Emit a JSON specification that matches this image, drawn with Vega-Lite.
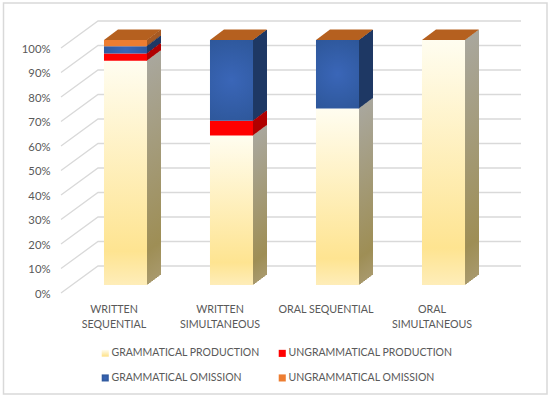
{"$schema":"https://vega.github.io/schema/vega-lite/v6.json","width":424,"height":245,"autosize":{"type":"none"},"padding":{"left":61,"top":48,"right":65,"bottom":104},"background":"white","config":{"view":{"stroke":null},"font":"Lato"},
"data":{"values":[
{"category":"WRITTEN SEQUENTIAL","series":"GRAMMATICAL PRODUCTION","value":91.5},
{"category":"WRITTEN SEQUENTIAL","series":"UNGRAMMATICAL PRODUCTION","value":3},
{"category":"WRITTEN SEQUENTIAL","series":"GRAMMATICAL OMISSION","value":3},
{"category":"WRITTEN SEQUENTIAL","series":"UNGRAMMATICAL OMISSION","value":2.5},
{"category":"WRITTEN SIMULTANEOUS","series":"GRAMMATICAL PRODUCTION","value":61},
{"category":"WRITTEN SIMULTANEOUS","series":"UNGRAMMATICAL PRODUCTION","value":6},
{"category":"WRITTEN SIMULTANEOUS","series":"GRAMMATICAL OMISSION","value":33},
{"category":"ORAL SEQUENTIAL","series":"GRAMMATICAL PRODUCTION","value":72},
{"category":"ORAL SEQUENTIAL","series":"GRAMMATICAL OMISSION","value":28},
{"category":"ORAL SIMULTANEOUS","series":"GRAMMATICAL PRODUCTION","value":100}]},
"transform":[{"stack":"value","groupby":["category"],"as":["low","high"]}],
"encoding":{
"x":{"field":"category","type":"nominal","title":null,"scale":{"domain":["WRITTEN SEQUENTIAL","WRITTEN SIMULTANEOUS","ORAL SEQUENTIAL","ORAL SIMULTANEOUS"],"paddingInner":0.594,"paddingOuter":0.297},"axis":{"ticks":false,"domain":false,"grid":false,"labelAngle":0,"labelColor":"#595959","labelFontSize":10.7,"labelPadding":11,"labelLineHeight":15,"labelOverlap":false,"labelBound":false,"labelBaseline":"top","labelExpr":"datum.label=='ORAL SEQUENTIAL'?datum.label:split(datum.label,' ')"}},
"y":{"field":"low","type":"quantitative","title":null,"scale":{"domain":[0,100],"nice":false},"axis":{"values":[0,10,20,30,40,50,60,70,80,90,100],"ticks":false,"domain":false,"grid":false,"labelColor":"#595959","labelFontSize":11.3,"labelPadding":11,"labelOffset":1,"labelBound":false,"labelFlush":false,"labelExpr":"datum.value+'%'"}},
"y2":{"field":"high"}},
"layer":[
{"data":{"values":[{"tick":0},{"tick":10},{"tick":20},{"tick":30},{"tick":40},{"tick":50},{"tick":60},{"tick":70},{"tick":80},{"tick":90},{"tick":100}]},"transform":[],"mark":{"type":"point","filled":false,"opacity":1,"size":4,"stroke":"#D9D9D9","strokeWidth":1.3,"shape":"M-53,0L-16,-27L407,-27"},"encoding":{"x":{"datum":"WRITTEN SEQUENTIAL","type":"nominal"},"y":{"field":"tick","type":"quantitative"},"y2":null}},
{"data":{"values":[{"tick":0}]},"transform":[],"mark":{"type":"point","filled":false,"opacity":1,"size":4,"stroke":"#D9D9D9","strokeWidth":1.5,"shape":"M-110.5,-290L433,-290L433,101L-110.5,101Z"},"encoding":{"x":{"datum":"WRITTEN SEQUENTIAL","type":"nominal"},"y":{"field":"tick","type":"quantitative"},"y2":null}},
{"encoding":{"fill":{"field":"series","type":"nominal","legend":null,"scale":{"domain":["UNGRAMMATICAL OMISSION","GRAMMATICAL OMISSION","UNGRAMMATICAL PRODUCTION","GRAMMATICAL PRODUCTION"],"range":["#A65A25","#1F3864","#B00000",{"expr":"{gradient:'linear',x1:0,y1:0,x2:0,y2:1,stops:[{offset:0,color:'#A9A79D'},{offset:0.85,color:'#9E8E55'},{offset:1,color:'#A8996C'}]}"}]}}},
"layer":[
{"mark":{"type":"bar","width":1.5,"xOffset":33.25,"yOffset":-8.4,"y2Offset":-8.4}},
{"mark":{"type":"bar","width":1.5,"xOffset":34.25,"yOffset":-9.1,"y2Offset":-9.1}},
{"mark":{"type":"bar","width":1.5,"xOffset":35.25,"yOffset":-9.9,"y2Offset":-9.9}},
{"mark":{"type":"bar","width":1.5,"xOffset":36.25,"yOffset":-10.6,"y2Offset":-10.6}},
{"mark":{"type":"bar","width":1.5,"xOffset":37.25,"yOffset":-11.4,"y2Offset":-11.4}},
{"mark":{"type":"bar","width":1.5,"xOffset":38.25,"yOffset":-12.1,"y2Offset":-12.1}},
{"mark":{"type":"bar","width":1.5,"xOffset":39.25,"yOffset":-12.9,"y2Offset":-12.9}},
{"mark":{"type":"bar","width":1.5,"xOffset":40.25,"yOffset":-13.6,"y2Offset":-13.6}},
{"mark":{"type":"bar","width":1.5,"xOffset":41.25,"yOffset":-14.4,"y2Offset":-14.4}},
{"mark":{"type":"bar","width":1.5,"xOffset":42.25,"yOffset":-15.1,"y2Offset":-15.1}},
{"mark":{"type":"bar","width":1.5,"xOffset":43.25,"yOffset":-15.9,"y2Offset":-15.9}},
{"mark":{"type":"bar","width":1.5,"xOffset":44.25,"yOffset":-16.6,"y2Offset":-16.6}},
{"mark":{"type":"bar","width":1.5,"xOffset":45.25,"yOffset":-17.4,"y2Offset":-17.4}},
{"mark":{"type":"bar","width":1.5,"xOffset":46.25,"yOffset":-18.1,"y2Offset":-18.1}}
]},
{"transform":[{"filter":"datum.high>99.9"}],"mark":{"type":"point","filled":true,"opacity":1,"size":4,"color":"#B5601F","strokeWidth":0,"shape":"M-21.5,0L21.5,0L35.5,-10.5L-7.5,-10.5Z","xOffset":11.5,"yOffset":-8},"encoding":{"y":{"field":"high","type":"quantitative"},"y2":null}},
{"mark":{"type":"bar","xOffset":11.5,"yOffset":-8,"y2Offset":-8},"encoding":{"color":{"field":"series","type":"nominal","title":null,"scale":{"domain":["GRAMMATICAL PRODUCTION","UNGRAMMATICAL PRODUCTION","GRAMMATICAL OMISSION","UNGRAMMATICAL OMISSION"],"range":[{"expr":"{gradient:'linear',x1:0,y1:0,x2:0,y2:1,stops:[{offset:0,color:'#FFFDF0'},{offset:0.85,color:'#FEE491'},{offset:1,color:'#FEEDB9'}]}"},"#FF0000",{"expr":"{gradient:'radial',x1:0.5,y1:0.5,r1:0,x2:0.5,y2:0.5,r2:0.65,stops:[{offset:0,color:'#3A66B8'},{offset:1,color:'#2C5596'}]}"},"#ED7D31"]},"legend":{"orient":"none","legendX":39,"legendY":300,"columns":2,"values":["GRAMMATICAL PRODUCTION","GRAMMATICAL OMISSION","UNGRAMMATICAL PRODUCTION","UNGRAMMATICAL OMISSION"],"symbolType":"square","symbolSize":50,"symbolStrokeWidth":0,"labelColor":"#595959","labelFontSize":10.5,"labelOffset":1,"rowPadding":13.7,"columnPadding":17,"labelLimit":300}}}}
]}
